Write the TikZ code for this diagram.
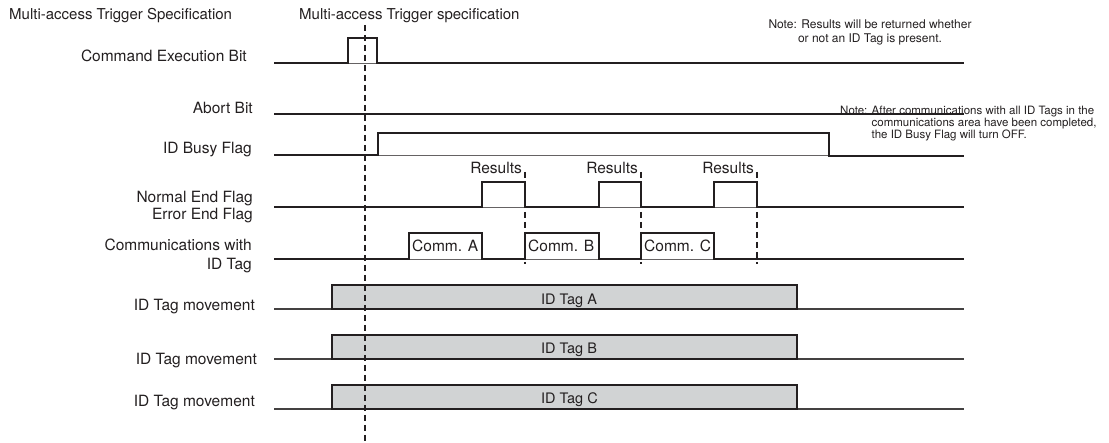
\documentclass[tikz,border=0pt]{standalone}
\usepackage{fontspec}
\setmainfont{TeX Gyre Heros}
\definecolor{ink}{HTML}{231F20}
\definecolor{tagfill}{HTML}{D1D3D4}
\begin{document}
\begin{tikzpicture}[x=1pt,y=-1pt,
  wave/.style={draw=ink,line width=2.2pt,line join=miter},
  thin/.style={draw=ink!70,line width=0.7pt},
  tagline/.style={draw=ink!85,line width=1.1pt},
  tagbox/.style={draw=ink,fill=tagfill,line width=2.2pt},
  trig/.style={draw=ink,line width=2.4pt,dash pattern=on 6pt off 4pt},
  rdash/.style={draw=ink,line width=1.6pt,dash pattern=on 6pt off 4pt},
  lbl/.style={inner sep=0pt,text=ink,font=\fontsize{15.5}{17}\selectfont},
  ttl/.style={inner sep=0pt,text=ink,font=\fontsize{15}{17}\selectfont},
  boxtxt/.style={inner sep=0pt,text=ink,font=\fontsize{14.5}{16}\selectfont},
  note/.style={inner sep=0pt,text=ink,font=\fontsize{11.5}{11.4}\selectfont}]
\useasboundingbox (0,0) rectangle (1109,443);
% titles
\node[ttl,anchor=base west] (t1) at (9,20) {Multi-access Trigger Specification};
\node[ttl,anchor=base west] (t2) at (299,20) {Multi-access Trigger specification};
% labels
\node[lbl,anchor=base east] (l1) at (247,62) {Command Execution Bit};
\node[lbl,anchor=base east] (l2) at (253,114) {Abort Bit};
\node[lbl,anchor=base east] (l3) at (252,154) {ID Busy Flag};
\node[lbl,anchor=base east] (l4) at (253,203) {Normal End Flag};
\node[lbl,anchor=base east] (l5) at (253,220) {Error End Flag};
\node[lbl,anchor=base east] (l6) at (252,251) {Communications with};
\node[lbl,anchor=base east] (l7) at (252,270) {ID Tag};
\node[lbl,anchor=base east] (l8) at (255,311) {ID Tag movement};
\node[lbl,anchor=base east] (l9) at (257,365) {ID Tag movement};
\node[lbl,anchor=base east] (l10) at (255,407) {ID Tag movement};
% thin baselines under pulses
\draw[thin] (348,63) -- (377,63);
\draw[thin] (378,155) -- (829,155);
\draw[thin] (482,207) -- (525,207) (599,207) -- (641,207) (714,207) -- (757,207);
\draw[thin] (409,259) -- (482,259) (525,259) -- (599,259) (641,259) -- (714,259);
% waveforms
\draw[wave] (274,63) -- (348,63) -- (348,38) -- (377,38) -- (377,63) -- (964,63);
\draw[wave] (274,114) -- (964,114);
\draw[wave] (274,155) -- (378,155) -- (378,133) -- (829,133) -- (829,156) -- (964,156);
\draw[wave] (274,207) -- (482,207) -- (482,182) -- (525,182) -- (525,207)
  -- (599,207) -- (599,182) -- (641,182) -- (641,207)
  -- (714,207) -- (714,182) -- (757,182) -- (757,207) -- (964,207);
\draw[wave] (274,259) -- (409,259) -- (409,233) -- (482,233) -- (482,259)
  -- (525,259) -- (525,233) -- (599,233) -- (599,259)
  -- (641,259) -- (641,233) -- (714,233) -- (714,259) -- (964,259);
% results markers
\draw[rdash] (525,172) -- (525,264);
\draw[rdash] (641,172) -- (641,264);
\draw[rdash] (757,172) -- (757,264);
\node[lbl,anchor=base east] (r1) at (522,174) {Results};
\node[lbl,anchor=base east] (r2) at (638,174) {Results};
\node[lbl,anchor=base east] (r3) at (754,174) {Results};
\node[lbl,anchor=base west] (c1) at (412,252) {Comm. A};
\node[lbl,anchor=base west] (c2) at (528,252) {Comm. B};
\node[lbl,anchor=base west] (c3) at (644,252) {Comm. C};
% tag movement
\draw[tagline] (274,309) -- (332,309) (797,309) -- (964,309);
\draw[tagline] (274,359) -- (332,359) (797,359) -- (964,359);
\draw[tagline] (274,409) -- (332,409) (797,409) -- (964,409);
\draw[tagbox] (332,285) rectangle (797,309);
\draw[tagbox] (332,335) rectangle (797,359);
\draw[tagbox] (332,385) rectangle (797,409);
\node[boxtxt,anchor=base west] (ta) at (541,305) {ID Tag A};
\node[boxtxt,anchor=base west] (tb) at (541,354) {ID Tag B};
\node[boxtxt,anchor=base west] (tc) at (541,404) {ID Tag C};
% notes
\node[note,anchor=base,align=center,font=\fontsize{12}{14}\selectfont] (n1) at (870,43) {Note: Results will be returned whether\\or not an ID Tag is present.};
\node[note,anchor=base west] (n2) at (840,127) {\begin{tabular}{@{}l@{ }l@{}}Note: & After communications with all ID Tags in the\\ & communications area have been completed,\\ & the ID Busy Flag will turn OFF.\end{tabular}};
% trigger line
\draw[trig] (365,25) -- (365,443);
\end{tikzpicture}
\end{document}
